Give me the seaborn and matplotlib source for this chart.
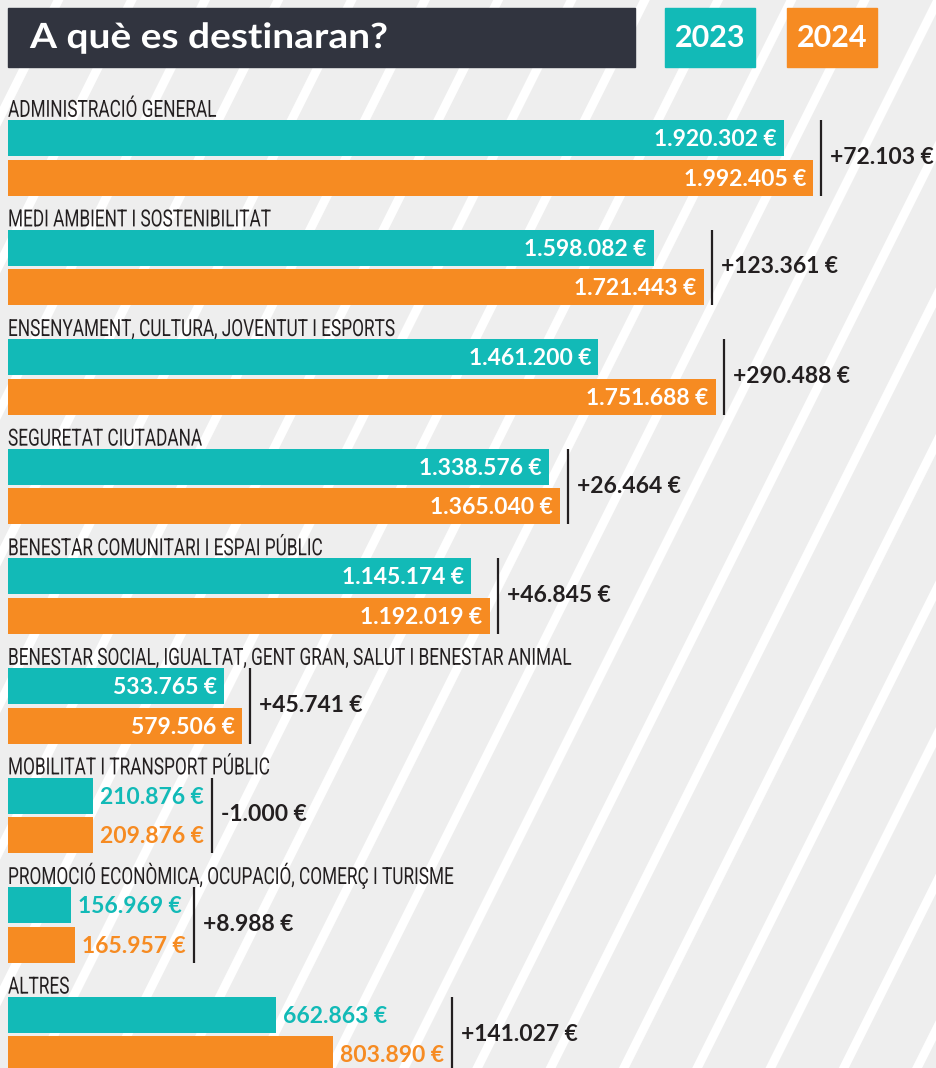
import matplotlib
matplotlib.use("Agg")
import matplotlib.pyplot as plt
from matplotlib import font_manager
from matplotlib.patches import Rectangle, Polygon
from matplotlib.patheffects import AbstractPathEffect
from matplotlib.transforms import Affine2D
import seaborn as sns
import pandas as pd

# data
categories = [
    "ADMINISTRACIÓ GENERAL",
    "MEDI AMBIENT I SOSTENIBILITAT",
    "ENSENYAMENT, CULTURA, JOVENTUT I ESPORTS",
    "SEGURETAT CIUTADANA",
    "BENESTAR COMUNITARI I ESPAI PÚBLIC",
    "BENESTAR SOCIAL, IGUALTAT, GENT GRAN, SALUT I BENESTAR ANIMAL",
    "MOBILITAT I TRANSPORT PÚBLIC",
    "PROMOCIÓ ECONÒMICA, OCUPACIÓ, COMERÇ I TURISME",
    "ALTRES",
]
years = ["2023", "2024"]
values_2023 = [1920302, 1598082, 1461200, 1338576, 1145174, 533765, 210876, 156969, 662863]
values_2024 = [1992405, 1721443, 1751688, 1365040, 1192019, 579506, 209876, 165957, 803890]
title = "A què es destinaran?"

TEAL = "#12bab7"
ORANGE = "#f68b22"
DARK = "#31343f"
INK = "#231f20"
BG = "#eeeeee"

W, H = 936, 1068
EUR_PER_PX = 1992405 / 805
ROW_PX = 109.6
FIRST_ROW_PX = 157.8
INSIDE_ROWS = 6  # first rows carry the value inside the bar

installed = {f.name for f in font_manager.fontManager.ttflist}
NARROW = next((f for f in ["Roboto", "Open Sans"] if f in installed), "DejaVu Sans")
BOLD = "Lato" if "Lato" in installed else "DejaVu Sans"


class Squeeze(AbstractPathEffect):
    """Scale glyphs horizontally around the text origin (condensed look)."""

    def __init__(self, sx):
        super().__init__()
        self.sx = sx

    def draw_path(self, renderer, gc, tpath, affine, rgbFace=None):
        renderer.draw_path(gc, tpath, Affine2D().scale(self.sx, 1) + affine, rgbFace)


def euro(v, sign=False):
    s = f"{abs(v):,}".replace(",", ".")
    if sign:
        s = ("+" if v >= 0 else "-") + s
    return s + " €"


n = len(categories)
df = pd.DataFrame({
    "category": categories * 2,
    "year": [years[0]] * n + [years[1]] * n,
    "value": values_2023 + values_2024,
})

sns.set_theme(style="white")
fig = plt.figure(figsize=(W / 100, H / 100), dpi=100, facecolor=BG)


def fpx(x, y):
    return (x / W, 1 - y / H)


# diagonal white stripes in the background
for k in range(-12, 26):
    xc = 688 + 73.3 * k
    top = xc + 0.5 * 500
    bottom = xc - 0.5 * (H - 500)
    pts = [(top - 5, 0), (top + 5, 0), (bottom + 5, H), (bottom - 5, H)]
    fig.add_artist(Polygon([fpx(*p) for p in pts], closed=True, transform=fig.transFigure,
                           facecolor="white", edgecolor="none", zorder=-1))

# header
fig.add_artist(Rectangle(fpx(8, 67), 627 / W, 59 / H, transform=fig.transFigure,
                         color=DARK, zorder=5))
fig.text(30 / W, 1 - 48 / H, title, fontsize=25, fontweight="bold", family=BOLD,
         color="white", va="baseline", ha="left", zorder=6, path_effects=[Squeeze(1.12)])
for x0, yr, col in [(665, years[0], TEAL), (787, years[1], ORANGE)]:
    fig.add_artist(Rectangle(fpx(x0, 67), 90 / W, 59 / H, transform=fig.transFigure,
                             color=col, zorder=5))
    fig.text((x0 + 45) / W, 1 - 47 / H, yr, fontsize=22, fontweight="bold", family=BOLD,
             color="white", va="baseline", ha="center", zorder=6)

ax = fig.add_axes([8 / W, 0, (W - 8) / W, 1])
ax.patch.set_alpha(0)

sns.barplot(data=df, x="value", y="category", hue="year", orient="h",
            palette={years[0]: TEAL, years[1]: ORANGE}, saturation=1,
            width=0.721, gap=0.089, errorbar=None, legend=False, ax=ax,
            linewidth=0, edgecolor="none")

ax.set_xlim(0, (W - 8) * EUR_PER_PX)
ax.set_ylim((H - FIRST_ROW_PX) / ROW_PX, -FIRST_ROW_PX / ROW_PX)
ax.axis("off")

fig.canvas.draw()
renderer = fig.canvas.get_renderer()

bars_a = ax.containers[0]
bars_b = ax.containers[1]
for i, cat in enumerate(categories):
    ax.annotate(cat, xy=(0, i), xytext=(0, 41), textcoords="offset pixels",
                ha="left", va="baseline", fontsize=17, family=NARROW, color=INK,
                path_effects=[Squeeze(0.73)])

    right_px = 0
    for bar, val, col in [(bars_a[i], values_2023[i], TEAL), (bars_b[i], values_2024[i], ORANGE)]:
        yc = bar.get_y() + bar.get_height() / 2
        end = bar.get_width()
        end_px = end / EUR_PER_PX
        if i < INSIDE_ROWS:
            ax.annotate(euro(val), xy=(end, yc), xytext=(-7, -8), textcoords="offset pixels",
                        ha="right", va="baseline", fontsize=16.5, fontweight="bold",
                        family=BOLD, color="white")
            right_px = max(right_px, end_px)
        else:
            t = ax.annotate(euro(val), xy=(end, yc), xytext=(7, -8), textcoords="offset pixels",
                            ha="left", va="baseline", fontsize=16.5, fontweight="bold",
                            family=BOLD, color=col)
            bb = t.get_window_extent(renderer)
            right_px = max(right_px, bb.x1 - 8)

    line_x = (right_px + 8) * EUR_PER_PX
    top = bars_a[i].get_y()
    bottom = bars_b[i].get_y() + bars_b[i].get_height()
    ax.plot([line_x, line_x], [top, bottom], color=INK, lw=1.6, solid_capstyle="butt")
    ax.annotate(euro(values_2024[i] - values_2023[i], sign=True), xy=(line_x, i),
                xytext=(9, -6), textcoords="offset pixels", ha="left", va="baseline",
                fontsize=16.5, fontweight="bold", family=BOLD, color=INK)

fig.savefig("out.png", dpi=100, facecolor=BG)
